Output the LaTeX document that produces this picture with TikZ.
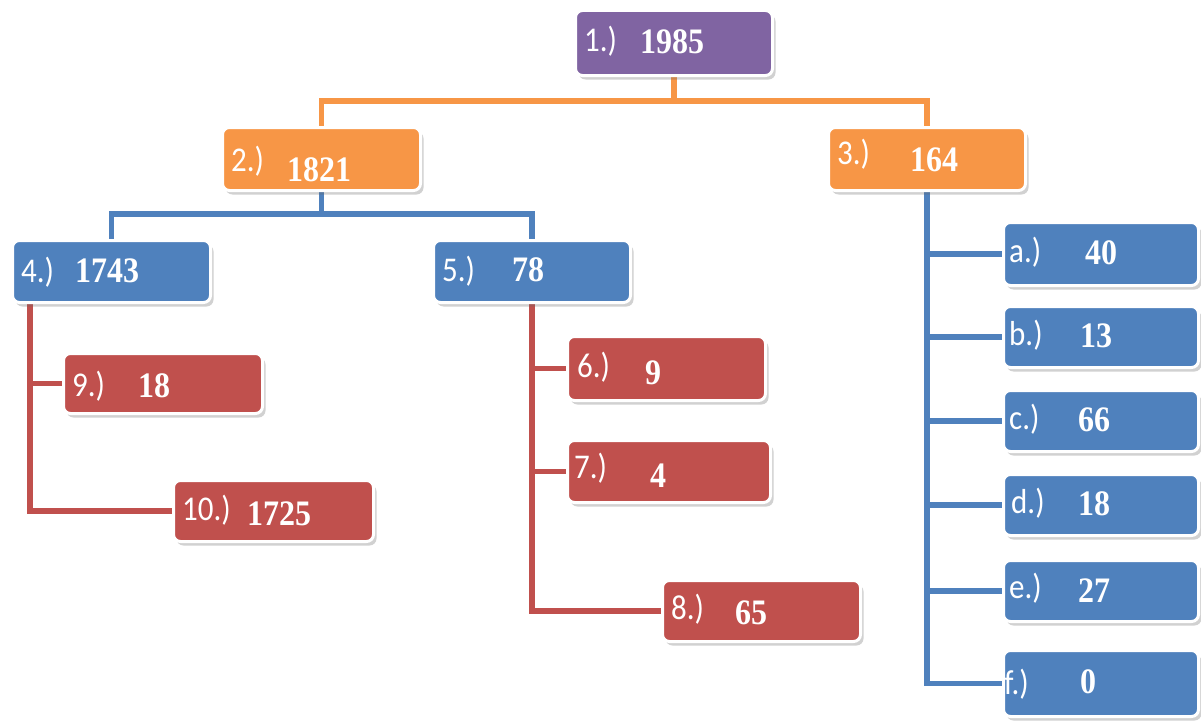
\documentclass[tikz,border=0pt]{standalone}
\usepackage{fontspec}
\setmainfont{Liberation Serif}
\newfontfamily\labfont{Carlito}
\usetikzlibrary{shadows,backgrounds}
\definecolor{cpurple}{HTML}{8064A2}
\definecolor{corange}{HTML}{F79646}
\definecolor{cblue}{HTML}{4F81BD}
\definecolor{cred}{HTML}{C0504D}
\tikzset{
  box/.style={rectangle, rounded corners=7pt, draw=white, line width=3pt, inner sep=0pt, anchor=north west,
    drop shadow={shadow xshift=3pt, shadow yshift=-4pt, opacity=0.3, fill=black!60}},
  lab/.style={anchor=base west, inner sep=0pt, text=white, font=\labfont\fontsize{31}{32}\selectfont},
  num/.style={anchor=base west, inner sep=0pt, text=white, font=\bfseries\fontsize{32}{34}\selectfont},
  conn/.style={line width=5.5pt, line cap=rect},
}
\newcommand{\ys}[1]{\scalebox{1}[1.12]{#1}}
\begin{document}
\begin{tikzpicture}[x=1pt,y=-1pt]
\useasboundingbox (0,0) rectangle (1201,725);
% boxes
\node[box, fill=cpurple, minimum width=197pt, minimum height=65pt] (n1) at (574,9) {};
\node[box, fill=corange, minimum width=198pt, minimum height=63pt] (n2) at (221,126) {};
\node[box, fill=corange, minimum width=197pt, minimum height=63pt] (n3) at (827,126) {};
\node[box, fill=cblue, minimum width=198pt, minimum height=62pt] (n4) at (11,239) {};
\node[box, fill=cblue, minimum width=197pt, minimum height=62pt] (n5) at (432,239) {};
\node[box, fill=cred, minimum width=198pt, minimum height=64pt] (n6) at (566,335) {};
\node[box, fill=cred, minimum width=203pt, minimum height=62pt] (n7) at (566,439) {};
\node[box, fill=cred, minimum width=198pt, minimum height=61pt] (n8) at (661,579) {};
\node[box, fill=cred, minimum width=199pt, minimum height=60pt] (n9) at (62,352) {};
\node[box, fill=cred, minimum width=200pt, minimum height=61pt] (n10) at (172,479) {};
\node[box, fill=cblue, minimum width=195pt, minimum height=63pt] (na) at (1002,221) {};
\node[box, fill=cblue, minimum width=195pt, minimum height=61pt] (nb) at (1002,305) {};
\node[box, fill=cblue, minimum width=195pt, minimum height=61pt] (nc) at (1002,389) {};
\node[box, fill=cblue, minimum width=195pt, minimum height=61pt] (nd) at (1002,473) {};
\node[box, fill=cblue, minimum width=195pt, minimum height=61pt] (ne) at (1002,559) {};
\node[box, fill=cblue, minimum width=195pt, minimum height=66pt] (nf) at (1002,649) {};
% texts
\node[lab] (t1l) at (584,52) {\ys{1.)}};   \node[num] (t1n) at (640,53) {\ys{1985}};
\node[lab] (t2l) at (231,171) {\ys{2.)}};  \node[num] (t2n) at (287,181) {\ys{1821}};
\node[lab] (t3l) at (837,164) {\ys{3.)}};  \node[num] (t3n) at (910,171) {\ys{164}};
\node[lab] (t4l) at (21,282) {\ys{4.)}};   \node[num] (t4n) at (75,282) {\ys{1743}};
\node[lab] (t5l) at (442,281) {\ys{5.)}};  \node[num] (t5n) at (512,281) {\ys{78}};
\node[lab] (t6l) at (577,377) {\ys{6.)}};  \node[num] (t6n) at (645,384) {\ys{9}};
\node[lab] (t7l) at (574,478) {\ys{7.)}};  \node[num] (t7n) at (650,487) {\ys{4}};
\node[lab] (t8l) at (671,619) {\ys{8.)}};  \node[num] (t8n) at (735,624) {\ys{65}};
\node[lab] (t9l) at (72,396) {\ys{9.)}};   \node[num] (t9n) at (138,397) {\ys{18}};
\node[lab] (t10l) at (182,520) {\ys{10.)}};\node[num] (t10n) at (247,525) {\ys{1725}};
\node[lab] (tal) at (1009,262) {\ys{a.)}}; \node[num] (tan) at (1085,264) {\ys{40}};
\node[lab] (tbl) at (1009,345) {\ys{b.)}}; \node[num] (tbn) at (1080,347) {\ys{13}};
\node[lab] (tcl) at (1009,429) {\ys{c.)}}; \node[num] (tcn) at (1078,431) {\ys{66}};
\node[lab] (tdl) at (1011,513) {\ys{d.)}}; \node[num] (tdn) at (1078,515) {\ys{18}};
\node[lab] (tel) at (1009,598) {\ys{e.)}}; \node[num] (ten) at (1078,602) {\ys{27}};
\node[lab] (tfl) at (1004,694) {\ys{f.)}}; \node[num] (tfn) at (1080,693) {\ys{0}};
% connectors
\coordinate (bus1) at (0,101);
\coordinate (bus2) at (0,214);
\coordinate (r4) at (30,0);
\begin{scope}[on background layer]
\draw[conn, corange] (n1.south) -- (n1.south |- bus1);
\draw[conn, corange] (n2.north) -- (n2.north |- bus1) -- (n3.north |- bus1) -- (n3.north);
\draw[conn, cblue] (n2.south) -- (n2.south |- bus2);
\draw[conn, cblue] (n4.north) -- (n4.north |- bus2) -- (n5.north |- bus2) -- (n5.north);
\draw[conn, cred] (n4.south -| r4) |- (n10.west);
\draw[conn, cred] (n9.west) -- (n9.west -| r4);
\draw[conn, cred] (n5.south) |- (n8.west);
\draw[conn, cred] (n6.west) -- (n6.west -| n5.south);
\draw[conn, cred] (n7.west) -- (n7.west -| n5.south);
\draw[conn, cblue] (n3.south) |- (nf.west);
\foreach \n in {na,nb,nc,nd,ne} {
  \draw[conn, cblue] (\n.west) -- (\n.west -| n3.south);
}
\end{scope}
\end{tikzpicture}
\end{document}
